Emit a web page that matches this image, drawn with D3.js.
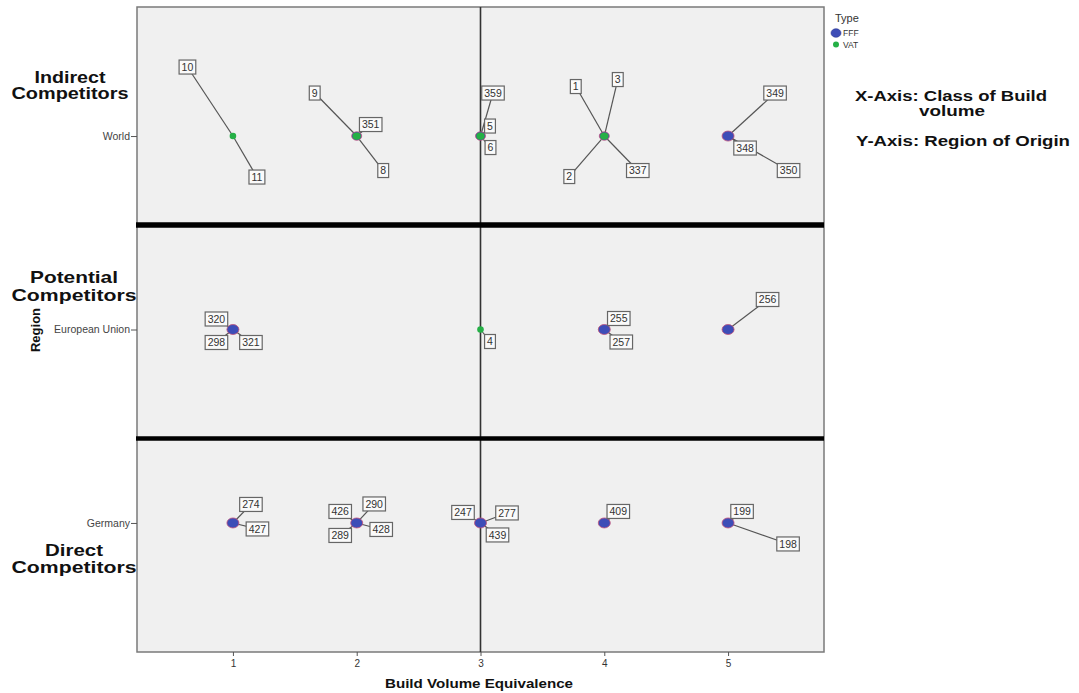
<!DOCTYPE html>
<html><head><meta charset="utf-8">
<script src="https://cdn.jsdelivr.net/npm/d3@7/dist/d3.min.js"></script>
<style>body{margin:0;background:#fff}svg{display:block}text{font-family:"Liberation Sans",Arial,sans-serif}</style>
</head><body><svg id="c" width="1079" height="693"></svg>
<script>
// ---- data ----
const classTicks = [1, 2, 3, 4, 5];
const regions = ["Germany", "European Union", "World"];        // bottom -> top
const regionGroups = [["Direct", "Competitors"], ["Potential", "Competitors"], ["Indirect", "Competitors"]];
const types = ["FFF", "VAT"];
// markers: region, class, type ("both" = FFF and VAT overlapping)
const points = [
  {region: "World", cls: 1, type: "VAT"},
  {region: "World", cls: 2, type: "both"},
  {region: "World", cls: 3, type: "both"},
  {region: "World", cls: 4, type: "both"},
  {region: "World", cls: 5, type: "FFF"},
  {region: "European Union", cls: 1, type: "FFF"},
  {region: "European Union", cls: 3, type: "VAT"},
  {region: "European Union", cls: 4, type: "FFF"},
  {region: "European Union", cls: 5, type: "FFF"},
  {region: "Germany", cls: 1, type: "FFF"},
  {region: "Germany", cls: 2, type: "FFF"},
  {region: "Germany", cls: 3, type: "FFF"},
  {region: "Germany", cls: 4, type: "FFF"},
  {region: "Germany", cls: 5, type: "FFF"}
];
// case labels attached to markers
const caseLabels = [
  {id: "10", region: "World", cls: 1}, {id: "11", region: "World", cls: 1},
  {id: "9", region: "World", cls: 2}, {id: "351", region: "World", cls: 2}, {id: "8", region: "World", cls: 2},
  {id: "359", region: "World", cls: 3}, {id: "5", region: "World", cls: 3}, {id: "6", region: "World", cls: 3},
  {id: "1", region: "World", cls: 4}, {id: "3", region: "World", cls: 4}, {id: "2", region: "World", cls: 4}, {id: "337", region: "World", cls: 4},
  {id: "349", region: "World", cls: 5}, {id: "348", region: "World", cls: 5}, {id: "350", region: "World", cls: 5},
  {id: "320", region: "European Union", cls: 1}, {id: "298", region: "European Union", cls: 1}, {id: "321", region: "European Union", cls: 1},
  {id: "4", region: "European Union", cls: 3},
  {id: "255", region: "European Union", cls: 4}, {id: "257", region: "European Union", cls: 4},
  {id: "256", region: "European Union", cls: 5},
  {id: "274", region: "Germany", cls: 1}, {id: "427", region: "Germany", cls: 1},
  {id: "426", region: "Germany", cls: 2}, {id: "289", region: "Germany", cls: 2}, {id: "290", region: "Germany", cls: 2}, {id: "428", region: "Germany", cls: 2},
  {id: "247", region: "Germany", cls: 3}, {id: "277", region: "Germany", cls: 3}, {id: "439", region: "Germany", cls: 3},
  {id: "409", region: "Germany", cls: 4},
  {id: "199", region: "Germany", cls: 5}, {id: "198", region: "Germany", cls: 5}
];
const referenceX = [3];                 // vertical reference line (class)
const separators = [1.54, 0.437];       // group separators (region axis units)

// ---- layout (pixel offsets of label boxes from their marker) ----
const labelOffsets = {
  "10": [-45.5, -69], "11": [24, 41], "9": [-42, -43], "351": [14, -11.5], "8": [26.5, 34.5],
  "359": [12.5, -43], "5": [9.5, -10], "6": [10, 11.5],
  "1": [-28.5, -49.5], "3": [13.5, -56.5], "2": [-35, 40.5], "337": [33.5, 34.5],
  "349": [47, -43], "348": [17, 12], "350": [60.5, 34.5],
  "320": [-16.5, -10.5], "298": [-16.5, 13], "321": [18, 13], "4": [9.5, 12],
  "255": [14.5, -11], "257": [17, 12.5], "256": [39.5, -30],
  "274": [18, -18.5], "427": [24.5, 6], "426": [-16.5, -11.5], "289": [-16.5, 12.5], "290": [17.5, -19], "428": [24.5, 6.5],
  "247": [-17.5, -10.5], "277": [26.5, -10], "439": [17, 12], "409": [14, -11.5], "199": [14, -11.5], "198": [60, 21]
};

const svg = d3.select("#c");
const L = 137, R = 824, T = 7, B = 652;
const x = d3.scaleLinear().domain([0.225, 5.775]).range([L, R]);
const y = d3.scaleLinear().domain([-0.667, 2.667]).range([B, T]);
const yr = r => y(regions.indexOf(r));
const colors = {FFF: "#3d4db7", VAT: "#25b046"};

function stretched(g, str, cx, by, size, width, weight, anchor) {
  return g.append("text").attr("x", cx).attr("y", by).attr("text-anchor", anchor || "middle")
    .attr("font-size", size).attr("font-weight", weight || "bold").attr("fill", "#111")
    .attr("textLength", width).attr("lengthAdjust", "spacingAndGlyphs").text(str);
}

// plot background
svg.append("rect").attr("x", L).attr("y", T).attr("width", R - L).attr("height", B - T)
  .attr("fill", "#f0f0f0").attr("stroke", "#7a7a7a").attr("stroke-width", 1.5);

// x axis
const xAxis = d3.axisBottom(x).tickValues(classTicks).tickSize(4).tickPadding(4).tickFormat(d3.format("d"));
const gx = svg.append("g").attr("transform", `translate(0,${B})`).call(xAxis);
gx.select(".domain").remove();
gx.selectAll("line").attr("stroke", "#555");
gx.selectAll("text").attr("font-size", 10).attr("fill", "#333").attr("font-family", "Liberation Sans, Arial, sans-serif");

// y axis
const yAxis = d3.axisLeft(y).tickValues(regions.map((r, i) => i)).tickSize(6).tickPadding(1).tickFormat(i => regions[i]);
const gy = svg.append("g").attr("transform", `translate(${L},0)`).call(yAxis);
gy.select(".domain").remove();
gy.selectAll("line").attr("stroke", "#555");
gy.selectAll("text").attr("font-size", 10.5).attr("fill", "#444").attr("font-family", "Liberation Sans, Arial, sans-serif");

// reference line at class 3
svg.selectAll(".vref").data(referenceX).join("line")
  .attr("x1", d => x(d)).attr("x2", d => x(d)).attr("y1", T).attr("y2", B)
  .attr("stroke", "#333").attr("stroke-width", 1.6);

// separators
svg.selectAll(".sep").data(separators).join("line")
  .attr("x1", L - 1).attr("x2", R).attr("y1", d => y(d)).attr("y2", d => y(d))
  .attr("stroke", "#000").attr("stroke-width", (d, i) => i === 0 ? 5.5 : 4.5);

// leader lines
const lab = caseLabels.map(d => {
  const px = x(d.cls), py = yr(d.region), o = labelOffsets[d.id];
  return {...d, px, py, bx: px + o[0], by: py + o[1]};
});
svg.append("g").selectAll("line").data(lab).join("line")
  .attr("x1", d => d.px).attr("y1", d => d.py).attr("x2", d => d.bx).attr("y2", d => d.by)
  .attr("stroke", "#555").attr("stroke-width", 1.2);

// markers
const gm = svg.append("g");
points.forEach(p => {
  const cx = x(p.cls), cy = yr(p.region);
  if (p.type === "FFF" || p.type === "both") {
    gm.append("ellipse").attr("cx", cx).attr("cy", cy).attr("rx", p.type === "both" ? 5 : 6).attr("ry", p.type === "both" ? 4.2 : 5)
      .attr("fill", colors.FFF).attr("stroke", "#c0507a").attr("stroke-width", 0.8);
  }
  if (p.type === "VAT" || p.type === "both") {
    gm.append("ellipse").attr("cx", cx).attr("cy", cy).attr("rx", p.type === "both" ? 4.2 : 3.3).attr("ry", p.type === "both" ? 3.6 : 3.3)
      .attr("fill", colors.VAT);
  }
});

// label boxes
const gl = svg.append("g").selectAll("g").data(lab).join("g");
gl.each(function(d) {
  const g = d3.select(this);
  const t = g.append("text").attr("x", d.bx).attr("y", d.by + 3.8).attr("text-anchor", "middle")
    .attr("font-size", 10.5).attr("fill", "#333").text(d.id);
  const w = t.node().getComputedTextLength() + 5;
  g.insert("rect", "text").attr("x", d.bx - w / 2).attr("y", d.by - 7).attr("width", w).attr("height", 14)
    .attr("fill", "#fafafa").attr("stroke", "#666").attr("stroke-width", 1.2);
});

// group titles on the left
const groupPos = [[74, 556, 573, 17, 58, 125], [74, 283, 301, 17, 88, 125], [70, 83, 99, 16, 71, 117]];
regionGroups.forEach((lines, i) => {
  const p = groupPos[i];
  stretched(svg, lines[0], p[0], p[1], p[3], p[4]);
  stretched(svg, lines[1], p[0], p[2], p[3], p[5]);
});

// axis titles
svg.append("text").attr("transform", "translate(40,330) rotate(-90)").attr("text-anchor", "middle")
  .attr("font-size", 13).attr("font-weight", "bold").attr("fill", "#111").text("Region");
stretched(svg, "Build Volume Equivalence", 479, 688, 12, 188);

// legend
svg.append("text").attr("x", 835).attr("y", 22).attr("font-size", 11).attr("fill", "#333").text("Type");
const lg = svg.append("g").selectAll("g").data(types).join("g")
  .attr("transform", (d, i) => `translate(836,${33 + i * 11.5})`);
lg.append("ellipse").attr("rx", d => d === "FFF" ? 5 : 3).attr("ry", d => d === "FFF" ? 4.3 : 3)
  .attr("fill", d => colors[d]).attr("stroke", d => d === "FFF" ? "#2a3590" : "none").attr("stroke-width", 0.6);
lg.append("text").attr("x", 7).attr("y", 3).attr("font-size", 8.5).attr("fill", "#333").text(d => d);

// right-side notes
stretched(svg, "X-Axis: Class of Build", 855, 101, 14, 192, "bold", "start");
stretched(svg, "volume", 952, 116, 14, 66);
stretched(svg, "Y-Axis: Region of Origin", 856, 146, 14, 214, "bold", "start");
</script></body></html>
